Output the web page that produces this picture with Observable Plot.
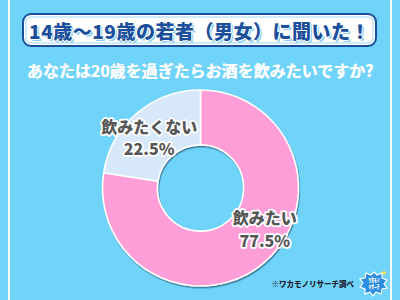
<!DOCTYPE html>
<html><head><meta charset="utf-8">
<script src="https://cdn.jsdelivr.net/npm/d3@7"></script>
<script src="https://cdn.jsdelivr.net/npm/@observablehq/plot@0.6"></script>
<style>
html,body{margin:0;padding:0;}
#wrap{position:relative;width:400px;height:300px;background:#6fd3fa;overflow:hidden;font-family:"Noto Sans CJK JP","Noto Sans",sans-serif;}
.vline{position:absolute;top:0;width:2px;height:300px;background:#fff;}
#titlebox{position:absolute;left:22px;top:13px;width:351px;height:30px;background:#fff;border:2.5px solid #1b4f9c;border-radius:9px;box-shadow:inset 0 0 0 1.5px #fff, inset 0 0 0 2.5px #9fd6f2;}
#title{position:absolute;left:0;top:0;width:100%;height:100%;display:flex;align-items:center;justify-content:center;font-size:19px;font-weight:900;color:#1b4f9c;letter-spacing:0.5px;
text-shadow:1px 0 0 #fff,-1px 0 0 #fff,0 1px 0 #fff,0 -1px 0 #fff,2px 2px 0 #8fd0f2,0.4px 0 0 #1b4f9c;}
#subtitle{position:absolute;left:0;top:58px;width:400px;text-align:center;font-size:16px;font-weight:700;color:#fff;text-shadow:0.3px 0 0 #fff;}
#chart{position:absolute;left:0;top:0;}
#caption{position:absolute;right:46px;top:278px;font-size:7.5px;font-weight:900;color:#1e2030;}
#logo{position:absolute;left:359px;top:269px;}
</style></head>
<body>
<div id="wrap">
  <div class="vline" style="left:8px"></div>
  <div class="vline" style="left:390px"></div>
  <div id="titlebox"><div id="title">14歳～19歳の若者（男女）に聞いた！</div></div>
  <div id="subtitle">あなたは20歳を過ぎたらお酒を飲みたいですか?</div>
  <div id="chart"></div>
  <div id="caption">※ワカモノリサーチ調べ</div>
  <svg id="logo" width="30" height="28" viewBox="0 0 30 28">
    <path d="M15 3 L18 6 L23 4 L23 9 L28 11 L25 15 L28 19 L23 20 L22 25 L17 23 L14 27 L11 23 L6 25 L6 20 L1 18 L4 14 L1 10 L6 9 L7 4 L12 6 Z" fill="#2c8de0" stroke="#fff" stroke-width="1.2"/>
    <text x="15" y="13" font-size="5.5" font-weight="900" fill="#fff" text-anchor="middle" font-family="Noto Sans CJK JP">ﾜｶﾓﾉ</text>
    <text x="15" y="19.5" font-size="5.5" font-weight="900" fill="#fff" text-anchor="middle" font-family="Noto Sans CJK JP">ﾘｻｰﾁ</text>
    <path d="M25 1 L26 3 L28 3.5 L26 4.5 L25 6.5 L24 4.5 L22 3.5 L24 3 Z" fill="#ffe14a"/>
  </svg>
</div>
<script>
const categories = ["飲みたい", "飲みたくない"];
const values = [77.5, 22.5];

const data = categories.map((c, i) => ({category: c, value: values[i]}));
const fills = {"飲みたい": "#fd9ed8", "飲みたくない": "#d7e8fb"};
const innerRatio = 0.44;

const arcs = d3.pie().sort(null).value(d => d.value)(data);
const labelData = arcs.map(a => {
  const mid = (a.startAngle + a.endAngle) / 2;
  const r = (1 + innerRatio) / 2;
  return {category: a.data.category, value: a.data.value, x: Math.sin(mid) * r, y: Math.cos(mid) * r,
          text: a.data.category + "\n" + a.data.value.toFixed(1) + "%"};
});

function donut(index, scales) {
  const cx = scales.x(0), cy = scales.y(0);
  const R = scales.x(1) - scales.x(0);
  const g = d3.create("svg:g");
  const defs = g.append("defs");
  const f = defs.append("filter").attr("id", "dshadow").attr("x", "-20%").attr("y", "-20%").attr("width", "140%").attr("height", "140%");
  f.append("feDropShadow").attr("dx", 0.8).attr("dy", 1.5).attr("stdDeviation", 0.7)
    .attr("flood-color", "#1d4660").attr("flood-opacity", 0.65);
  const arc = d3.arc().innerRadius(R * innerRatio).outerRadius(R);
  g.append("g").attr("transform", `translate(${cx},${cy})`).attr("filter", "url(#dshadow)")
    .selectAll("path").data(arcs).join("path")
    .attr("d", arc)
    .attr("fill", d => fills[d.data.category])
    .attr("stroke", "#fff").attr("stroke-width", 1.6).attr("stroke-linejoin", "round");
  return g.node();
}

const labelStyle = {
  x: "x", y: "y", text: "text",
  fontSize: 16, fontWeight: 900, lineHeight: 1.4, fill: "#575757",
  stroke: "#fff", strokeWidth: 3.5, fontFamily: "Noto Sans CJK JP"
};

const plot = Plot.plot({
  width: 400, height: 300, margin: 0,
  x: {domain: [-1, 1], range: [102.5, 298.5], axis: null},
  y: {domain: [-1, 1], range: [286, 90], axis: null},
  style: {background: "transparent", overflow: "visible"},
  marks: [
    donut,
    Plot.text(labelData.filter(d => d.category === "飲みたくない"), {...labelStyle, dx: -6, dy: 2}),
    Plot.text(labelData.filter(d => d.category === "飲みたい"), {...labelStyle, dx: 18, dy: -14})
  ]
});
document.getElementById("chart").appendChild(plot);
</script>
</body></html>
